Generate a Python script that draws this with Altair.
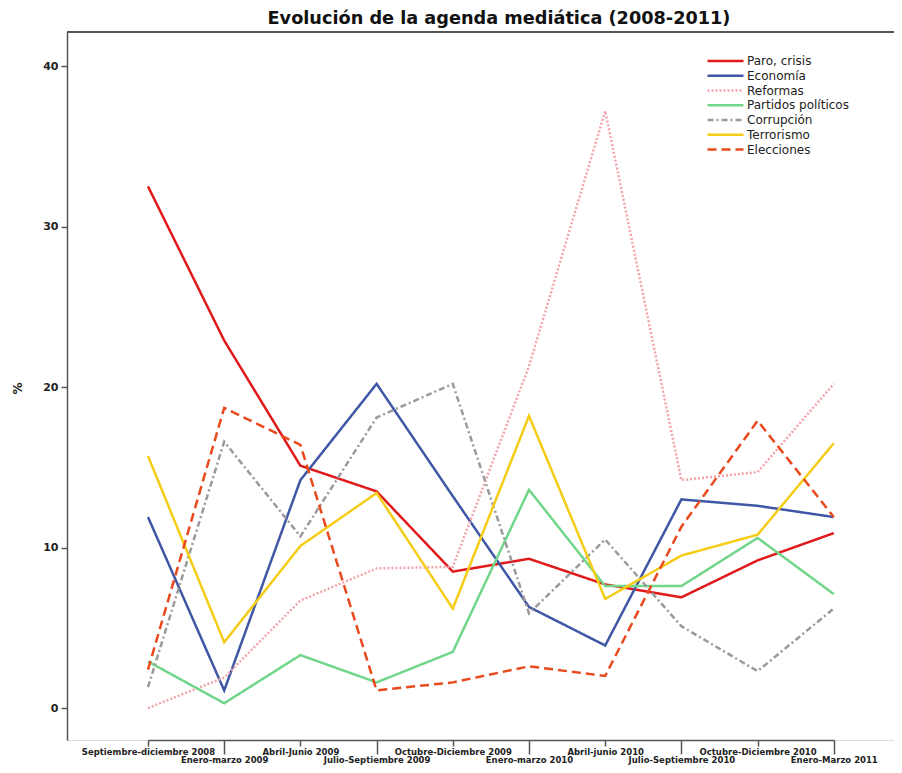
import json
import altair as alt
import pandas as pd

categories = [
    "Septiembre-diciembre 2008", "Enero-marzo 2009", "Abril-Junio 2009",
    "Julio-Septiembre 2009", "Octubre-Diciembre 2009", "Enero-marzo 2010",
    "Abril-junio 2010", "Julio-Septiembre 2010", "Octubre-Diciembre 2010",
    "Enero-Marzo 2011",
]
series_names = ["Paro, crisis", "Economía", "Reformas", "Partidos políticos",
                "Corrupción", "Terrorismo", "Elecciones"]

paro = [32.5, 22.9, 15.1, 13.5, 8.5, 9.3, 7.7, 6.9, 9.2, 10.9]
economia = [11.9, 1.1, 14.2, 20.2, 13.2, 6.3, 3.9, 13.0, 12.6, 11.9]
reformas = [0.0, 1.9, 6.7, 8.7, 8.8, 21.3, 37.2, 14.2, 14.7, 20.2]
partidos = [2.9, 0.3, 3.3, 1.6, 3.5, 13.6, 7.6, 7.6, 10.6, 7.1]
corrupcion = [1.3, 16.6, 10.7, 18.1, 20.2, 5.9, 10.5, 5.1, 2.3, 6.2]
terrorismo = [15.7, 4.1, 10.1, 13.4, 6.2, 18.2, 6.8, 9.5, 10.8, 16.5]
elecciones = [2.4, 18.7, 16.4, 1.1, 1.6, 2.6, 2.0, 11.3, 17.9, 11.9]

series_values = [paro, economia, reformas, partidos, corrupcion, terrorismo, elecciones]
colors = ["#e0191b", "#3f57a5", "#f4a3ab", "#72d68a", "#9a9a9a", "#f5cc17", "#e8491d"]
dashes = [[1, 0], [1, 0], [2, 2], [1, 0], [6, 3, 2, 3], [1, 0], [9, 5]]

rows = []
for name, vals in zip(series_names, series_values):
    for cat, v in zip(categories, vals):
        rows.append({"periodo": cat, "serie": name, "valor": v})
df = pd.DataFrame(rows)

odd = json.dumps(categories[1::2])
odd_test = f"indexof({odd}, datum.value) >= 0"

W, H = 827, 708

legend = alt.Legend(
    title=None, orient="none", legendX=639, legendY=23, padding=0,
    symbolType="stroke", symbolSize=1296, symbolStrokeWidth=2.5,
    clipHeight=12, rowPadding=2.75,
    labelFont="DejaVu Sans", labelFontSize=12, labelColor="#222",
    labelOffset=2,
)

x_axis = alt.Axis(
    title=None, labelAngle=0, grid=False,
    domainColor="#555", domainWidth=1.5,
    tickColor="#555", tickWidth=1.5,
    tickSize={"condition": {"test": odd_test, "value": 14}, "value": 6},
    labelFont="DejaVu Sans", labelFontWeight="bold", labelFontSize=8.5,
    labelColor="#222", labelPadding=1.5,
    labelBaseline="top", labelOverlap=False,
)

y_axis = alt.Axis(
    title="%", values=[0, 10, 20, 30, 40], grid=False,
    domainColor="#555", domainWidth=1.5, tickColor="#555", tickWidth=1.5,
    tickSize=6, labelFont="DejaVu Sans", labelFontWeight="bold",
    labelFontSize=11, labelColor="#222", labelPadding=3,
    titleFont="DejaVu Sans", titleFontWeight="bold", titleFontSize=12,
    titleColor="#222", titleX=-50, titleY=356, titleAngle=-90,
    titleAlign="center", titleBaseline="middle",
)

lines = alt.Chart(df).mark_line(strokeWidth=2.5).encode(
    x=alt.X("periodo:N", sort=categories,
            scale=alt.Scale(type="point", range=[81, 766.8], padding=0),
            axis=x_axis),
    y=alt.Y("valor:Q", scale=alt.Scale(domain=[-1.99, 42.12], nice=False, zero=False),
            axis=y_axis),
    color=alt.Color("serie:N", sort=series_names,
                    scale=alt.Scale(domain=series_names, range=colors), legend=legend),
    strokeDash=alt.StrokeDash("serie:N", sort=series_names,
                              scale=alt.Scale(domain=series_names, range=dashes), legend=legend),
)

top_border = alt.Chart(df).mark_rule(color="#555", strokeWidth=1.5).encode(
    x=alt.value(0), x2=alt.value(W), y=alt.value(0)
)

chart = alt.layer(lines, top_border).properties(
    width=W, height=H,
    title=alt.TitleParams("Evolución de la agenda mediática (2008-2011)",
                          font="DejaVu Sans", fontSize=17.7, fontWeight="bold",
                          color="#111", anchor="middle", dx=18.5, offset=4),
    padding={"left": 59, "top": 24, "right": 0, "bottom": 25},
    autosize=alt.AutoSizeParams(type="none"),
).configure_view(stroke=None).configure(background="white")

chart.save("out.html", embed_options={"renderer": "svg", "actions": False})
